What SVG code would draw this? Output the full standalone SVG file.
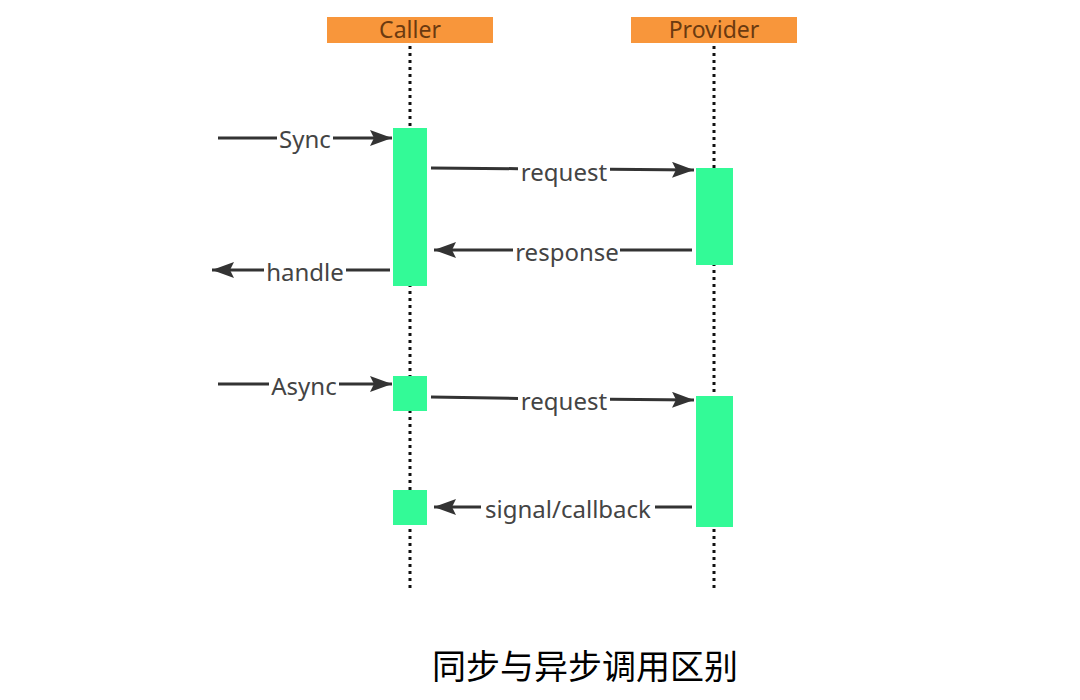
<svg xmlns="http://www.w3.org/2000/svg" width="1080" height="700" viewBox="0 0 1080 700">
<style>
.hdr{fill:#F8963B}
.hdrt{font-family:"Noto Sans","Liberation Sans",sans-serif;font-size:23px;fill:#6B3A10;text-anchor:middle}
.life{stroke:#111;stroke-width:3;stroke-dasharray:3 4;fill:none}
.act{fill:#33FA97}
.msg{stroke:#333;stroke-width:3;fill:none;marker-end:url(#ah)}
.lbl{font-family:"Noto Sans","Liberation Sans",sans-serif;font-size:24px;fill:#444;text-anchor:middle}
.cap{font-family:"Noto Sans CJK SC",sans-serif;font-size:34px;fill:#000;text-anchor:middle}
</style>
<defs>
<marker id="ah" markerUnits="userSpaceOnUse" markerWidth="22" markerHeight="16" viewBox="0 0 22 16" refX="22" refY="8" orient="auto">
<path d="M0,0 L22,8 L0,16 L4,8 Z" fill="#333"/>
</marker>
</defs>
<rect width="1080" height="700" fill="#fff"/>
<g id="caller">
<rect class="hdr" x="327" y="17" width="166" height="26"/>
<text class="hdrt" x="410" y="38">Caller</text>
<line class="life" x1="410" y1="46" x2="410" y2="592"/>
</g>
<g id="provider">
<rect class="hdr" x="631" y="17" width="166" height="26"/>
<text class="hdrt" x="714" y="38">Provider</text>
<line class="life" x1="714" y1="46" x2="714" y2="592"/>
</g>
<g id="caller-act1"><rect class="act" x="393" y="128" width="34" height="158"/></g>
<g id="provider-act1"><rect class="act" x="696" y="168" width="37" height="97"/></g>
<g id="caller-act2"><rect class="act" x="393" y="376" width="34" height="35"/></g>
<g id="provider-act2"><rect class="act" x="696" y="396" width="37" height="131"/></g>
<g id="caller-act3"><rect class="act" x="393" y="490" width="34" height="35"/></g>
<g id="connectors">
<path class="msg" d="M218,138 H277 M333,138 H392"/>
<path class="msg" d="M431,168 L518,168.7 M610,169.3 L694,170"/>
<path class="msg" d="M692,250 H620 M513,250 H434"/>
<path class="msg" d="M390,270 H346 M264,270 H212"/>
<path class="msg" d="M218,384 H269 M339,384 H392"/>
<path class="msg" d="M431,397 L518,398.5 M610,399.3 L694,400"/>
<path class="msg" d="M692,507 H655 M481,507 H434"/>
<text class="lbl" x="305" y="148">Sync</text>
<text class="lbl" x="564" y="181">request</text>
<text class="lbl" x="567" y="261">response</text>
<text class="lbl" x="305" y="281">handle</text>
<text class="lbl" x="304" y="395">Async</text>
<text class="lbl" x="564" y="410">request</text>
<text class="lbl" x="568" y="518">signal/callback</text>
</g>
<g id="caption"><text class="cap" x="585" y="679">同步与异步调用区别</text></g>
</svg>
